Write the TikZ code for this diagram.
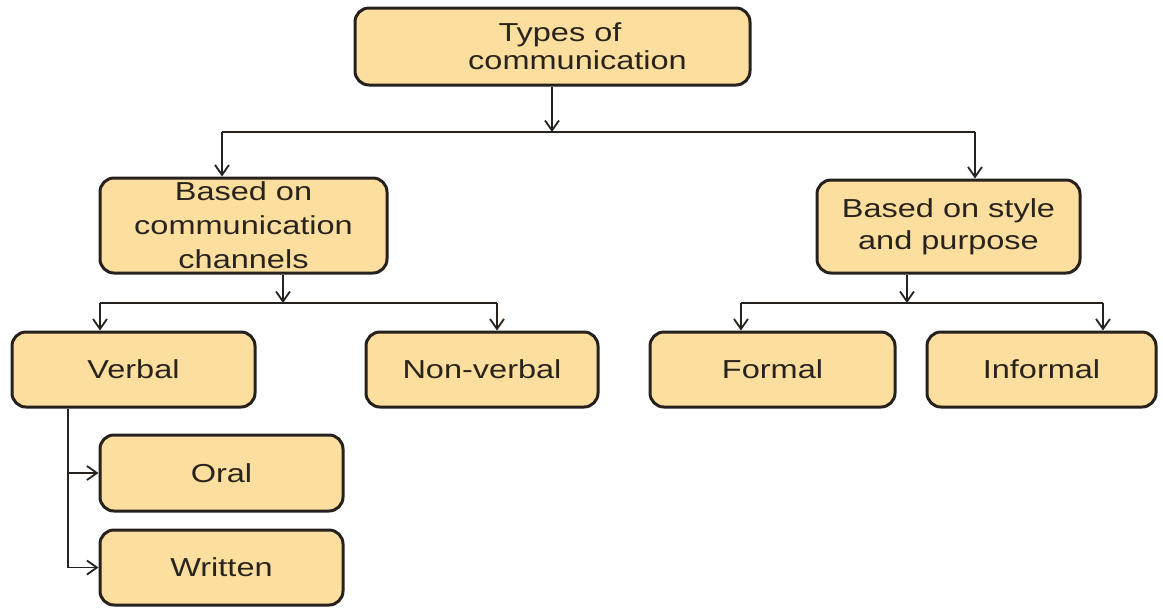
\documentclass[tikz,border=0pt]{standalone}
\usepackage{fontspec}
\setmainfont[FakeStretch=1.25]{Liberation Sans}
\usetikzlibrary{arrows.meta}
\definecolor{boxfill}{RGB}{252,223,158}
\definecolor{boxline}{RGB}{38,33,28}
\definecolor{txt}{RGB}{40,35,28}
\begin{document}
\begin{tikzpicture}[x=0.5pt,y=-0.5pt,
  cbox/.style={draw=boxline,line width=1.5pt,fill=boxfill,rounded corners=7pt,
    align=center,inner sep=0pt,text=txt,font=\fontsize{13}{16}\selectfont},
  conn/.style={draw=boxline,line width=0.9pt},
  arr/.style={conn,-{Straight Barb[length=5pt,width=7pt,line width=0.9pt]}}]
\useasboundingbox (0,0) rectangle (1163,607);
\node[cbox,minimum width=197.5pt,minimum height=38.5pt,font=\fontsize{13}{14}\selectfont] (top) at (552.5,46.5) {\hspace*{7.5pt}Types of\\\hspace*{25pt}communication};
\node[cbox,minimum width=143.5pt,minimum height=47.5pt,font=\fontsize{13}{17}\selectfont] (comm) at (243.5,225.5) {Based on\\communication\\channels};
\node[cbox,minimum width=131.5pt,minimum height=46.5pt] (style) at (948.5,226.5) {Based on style\\and purpose};
\node[cbox,minimum width=121.5pt,minimum height=37.5pt] (verbal) at (133.5,369.5) {Verbal};
\node[cbox,minimum width=116pt,minimum height=37.5pt] (nonverbal) at (482,369.5) {Non-verbal};
\node[cbox,minimum width=122.5pt,minimum height=37.5pt] (formal) at (772.5,369.5) {Formal};
\node[cbox,minimum width=114.5pt,minimum height=37.5pt] (informal) at (1041.5,369.5) {Informal};
\node[cbox,minimum width=121.5pt,minimum height=38pt] (oral) at (221.5,473) {Oral};
\node[cbox,minimum width=121.5pt,minimum height=37.5pt] (written) at (221.5,567.5) {Written};
% junctions
\coordinate (j1) at (552,132);
\coordinate (j1l) at (222,132);
\coordinate (j1r) at (975,132);
\coordinate (j2) at (283,303);
\coordinate (j2l) at (100,303);
\coordinate (j2r) at (497,303);
\coordinate (j3) at (907,303);
\coordinate (j3l) at (741,303);
\coordinate (j3r) at (1103,303);
\coordinate (v0) at (68,407);
\coordinate (vo) at (68,473);
\coordinate (vw) at (68,567.5);
% connectors
\draw[arr] (top.south -| j1) -- (j1);
\draw[conn] (j1l) -- (j1r);
\draw[arr] (j1l) -- (j1l |- comm.north);
\draw[arr] (j1r) -- (j1r |- style.north);
\draw[arr] (comm.south -| j2) -- (j2);
\draw[conn] (j2l) -- (j2r);
\draw[arr] (j2l) -- (j2l |- verbal.north);
\draw[arr] (j2r) -- (j2r |- nonverbal.north);
\draw[arr] (style.south -| j3) -- (j3);
\draw[conn] (j3l) -- (j3r);
\draw[arr] (j3l) -- (j3l |- formal.north);
\draw[arr] (j3r) -- (j3r |- informal.north);
\draw[conn] (verbal.south -| v0) -- (vw);
\draw[arr] (vo) -- (oral.west);
\draw[arr] (vw) -- (written.west);
\end{tikzpicture}
\end{document}
